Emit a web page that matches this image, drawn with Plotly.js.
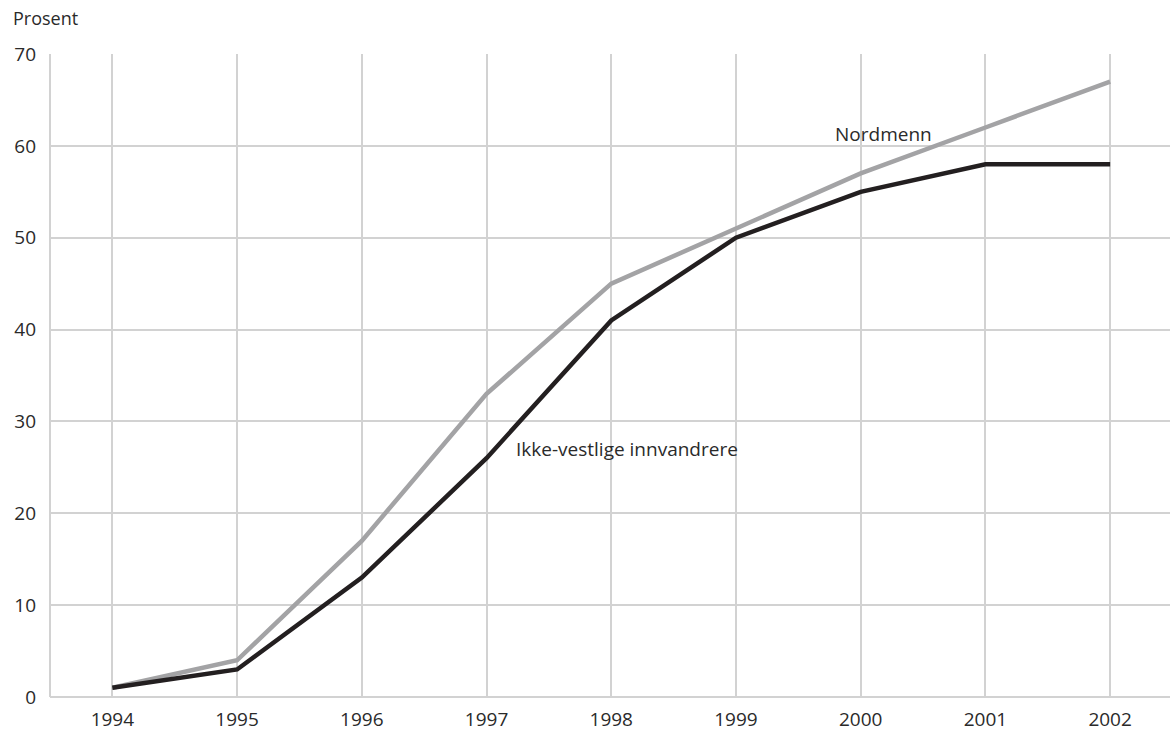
<!DOCTYPE html>
<html>
<head>
<meta charset="utf-8">
<script src="https://cdn.plot.ly/plotly-3.0.1.min.js"></script>
<style>html,body{margin:0;padding:0;background:#fff;}#chart{width:1170px;height:733px;}</style>
</head>
<body>
<div id="chart"></div>
<script>
var years = [1994, 1995, 1996, 1997, 1998, 1999, 2000, 2001, 2002];
var nordmenn = [1, 4, 17, 33, 45, 51, 57, 62, 67];
var ikkeVestlige = [1, 3, 13, 26, 41, 50, 55, 58, 58];
var yTicks = [0, 10, 20, 30, 40, 50, 60, 70];

var font = "Open Sans, Noto Sans, sans-serif";
var traces = [
  {x: years, y: nordmenn, type: 'scatter', mode: 'lines', name: 'Nordmenn',
   line: {color: '#a3a3a5', width: 4.5}},
  {x: years, y: ikkeVestlige, type: 'scatter', mode: 'lines', name: 'Ikke-vestlige innvandrere',
   line: {color: '#231f20', width: 4.5}}
];
var layout = {
  width: 1170, height: 733,
  margin: {l: 50, r: 0, t: 54, b: 36},
  paper_bgcolor: '#fff', plot_bgcolor: '#fff',
  showlegend: false,
  font: {family: font, size: 18, color: '#2a2a2a'},
  xaxis: {range: [1993.5, 2002.48], tickvals: years, ticktext: years.map(String),
    showgrid: true, gridcolor: '#d2d2d2', gridwidth: 2, zeroline: false,
    showline: false, ticks: '', ticklen: 0, tickfont: {size: 19, color: '#2a2a2a'},
    ticklabelstandoff: 9, fixedrange: true},
  yaxis: {range: [0, 70], tickvals: yTicks, showgrid: true, gridcolor: '#d2d2d2', gridwidth: 2,
    zeroline: false, showline: false, ticks: '', tickfont: {size: 19, color: '#2a2a2a'},
    ticklabelstandoff: 13, fixedrange: true},
  shapes: [
    {type: 'line', xref: 'paper', yref: 'paper', x0: 0, x1: 0, y0: 0, y1: 1,
     line: {color: '#d2d2d2', width: 2}, layer: 'below'},
    {type: 'line', xref: 'paper', yref: 'paper', x0: 0, x1: 1, y0: 0, y1: 0,
     line: {color: '#d2d2d2', width: 2}, layer: 'below'}
  ],
  annotations: [
    {text: 'Prosent', xref: 'paper', yref: 'paper', x: -0.035, y: 1.056, xanchor: 'left', yanchor: 'middle',
     showarrow: false, font: {size: 18, color: '#2a2a2a'}},
    {text: 'Nordmenn', x: 1999.78, y: 61.3, xanchor: 'left', yanchor: 'middle', showarrow: false,
     font: {size: 19, color: '#2a2a2a'}},
    {text: 'Ikke-vestlige innvandrere', x: 1997.22, y: 27.0, xanchor: 'left', yanchor: 'middle', showarrow: false,
     font: {size: 19, color: '#2a2a2a'}}
  ]
};
Plotly.newPlot('chart', traces, layout, {displayModeBar: false, staticPlot: true});
</script>
</body>
</html>
